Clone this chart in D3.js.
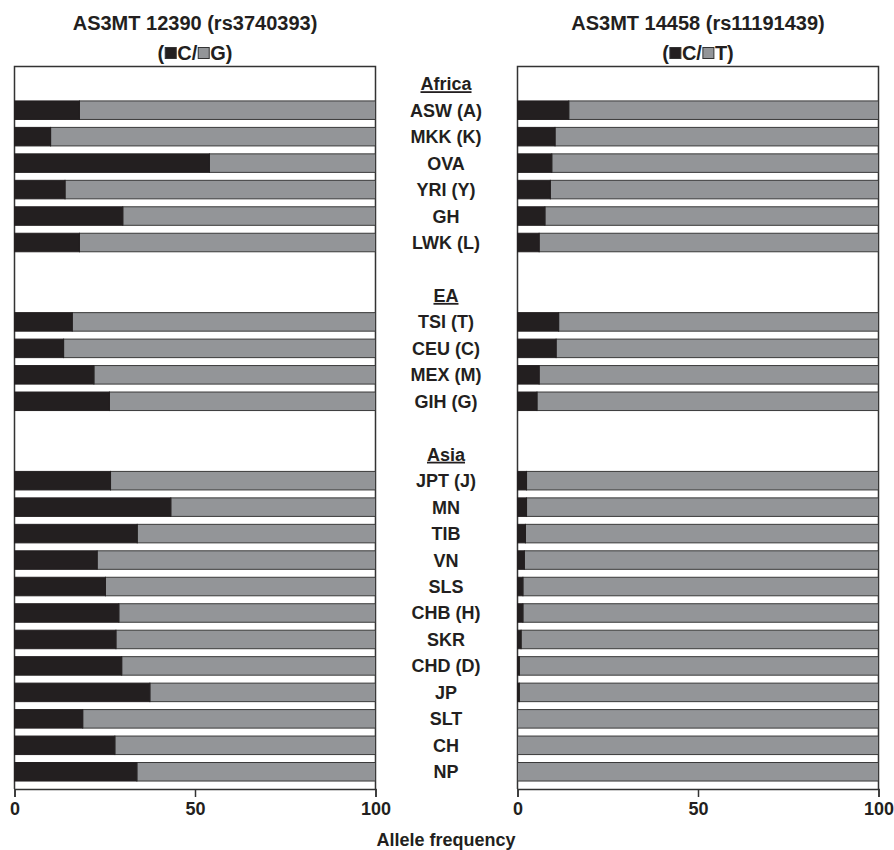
<!DOCTYPE html>
<html>
<head>
<meta charset="utf-8">
<script src="https://cdn.jsdelivr.net/npm/d3@7"></script>
<style>
  body { margin: 0; background: #fff; }
  text { font-family: "Liberation Sans", Arial, sans-serif; font-weight: bold; fill: #231f20; }
</style>
</head>
<body>
<div id="chart-area"></div>
<script>
// groups of populations, top to bottom
var groups = ["Africa", "EA", "Asia"];
var africaPops = ["ASW (A)", "MKK (K)", "OVA", "YRI (Y)", "GH", "LWK (L)"];
var eaPops = ["TSI (T)", "CEU (C)", "MEX (M)", "GIH (G)"];
var asiaPops = ["JPT (J)", "MN", "TIB", "VN", "SLS", "CHB (H)", "SKR", "CHD (D)", "JP", "SLT", "CH", "NP"];

// C allele frequency (%) for each population, same order as above
var freqC12390 = [18, 10, 54, 14, 30, 18, 16, 13.6, 22, 26.3,
                  26.6, 43.3, 34, 22.9, 25.2, 28.9, 28.1, 29.7, 37.5, 18.9, 27.8, 33.9];
var freqC14458 = [14.2, 10.4, 9.5, 9.1, 7.6, 6, 11.4, 10.7, 6, 5.4,
                  2.5, 2.5, 2.2, 1.9, 1.5, 1.5, 1, 0.5, 0.5, 0, 0, 0];

var panelTitles = ["AS3MT 12390 (rs3740393)", "AS3MT 14458 (rs11191439)"];
var otherAllele = ["G", "T"];
var tickValues = [0, 50, 100];

var W = 894, H = 850;
var black = "#231f20", grey = "#939598";

var svg = d3.select("#chart-area").append("svg")
  .attr("width", W)
  .attr("height", H);

// row slots: group header, its populations, then a blank slot
var populations = africaPops.concat(eaPops, asiaPops);
var slots = [];
[africaPops, eaPops, asiaPops].forEach(function(list, i) {
  slots.push("hdr:" + groups[i]);
  list.forEach(function(p) { slots.push(p); });
  if (i < 2) slots.push("gap" + i);
});

var y = d3.scaleBand()
  .domain(slots)
  .range([70.5, 785])
  .paddingInner(0.3)
  .paddingOuter(0.15);

var panelTop = 66.5, panelBottom = 789;
var panels = [
  { left: 14.5, values: freqC12390 },
  { left: 517.5, values: freqC14458 }
];

panels.forEach(function(p, pi) {
  var x = d3.scaleLinear().domain([0, 100]).range([p.left, p.left + 361]);
  var g = svg.append("g");
  var data = populations.map(function(name, i) { return { name: name, c: p.values[i] }; });

  // frame
  g.append("path")
    .attr("d", "M" + x(0) + "," + panelBottom + "V" + panelTop + "H" + x(100) + "V" + panelBottom)
    .attr("fill", "none")
    .attr("stroke", "#333")
    .attr("stroke-width", 1.5);

  // grey (other allele) then black (C allele)
  g.selectAll("rect.other").data(data).enter().append("rect")
    .attr("class", "other")
    .attr("x", function(d) { return x(d.c); })
    .attr("y", function(d) { return y(d.name); })
    .attr("width", function(d) { return x(100) - x(d.c); })
    .attr("height", y.bandwidth())
    .attr("fill", grey)
    .attr("stroke", "#3a3a3a")
    .attr("stroke-width", 1);

  g.selectAll("rect.callele").data(data.filter(function(d) { return d.c > 0; })).enter().append("rect")
    .attr("class", "callele")
    .attr("x", x(0))
    .attr("y", function(d) { return y(d.name); })
    .attr("width", function(d) { return x(d.c) - x(0); })
    .attr("height", y.bandwidth())
    .attr("fill", black)
    .attr("stroke", black)
    .attr("stroke-width", 1);

  // bottom axis
  var axis = d3.axisBottom(x).tickValues(tickValues).tickSize(8).tickPadding(5).tickFormat(d3.format("d"));
  var ax = g.append("g")
    .attr("transform", "translate(0," + panelBottom + ")")
    .call(axis);
  ax.select(".domain").attr("stroke", "#333").attr("stroke-width", 1.5);
  ax.selectAll(".tick line").attr("stroke", "#333").attr("stroke-width", 1.5);
  ax.selectAll(".tick text")
    .attr("font-size", "18px")
    .style("font-family", "'Liberation Sans', Arial, sans-serif")
    .style("font-weight", "bold")
    .attr("fill", black);

  // title
  var cx = (x(0) + x(100)) / 2;
  g.append("text")
    .attr("x", cx)
    .attr("y", 30)
    .attr("text-anchor", "middle")
    .attr("font-size", "20px")
    .text(panelTitles[pi]);

  // legend line "(■C/■G)"
  var leg = g.append("g");
  var pieces = [
    { t: "(" }, { sq: black }, { t: "C/" }, { sq: grey }, { t: otherAllele[pi] + ")" }
  ];
  var sq = 11, pos = 0;
  pieces.forEach(function(pc) {
    if (pc.t) {
      var t = leg.append("text").attr("x", pos).attr("y", 59.5).attr("font-size", "20px").text(pc.t);
      pos += t.node().getComputedTextLength();
    } else {
      leg.append("rect")
        .attr("x", pos + 1).attr("y", 47.5)
        .attr("width", sq).attr("height", sq)
        .attr("fill", pc.sq)
        .attr("stroke", "#333").attr("stroke-width", 1);
      pos += sq + 2;
    }
  });
  leg.attr("transform", "translate(" + (cx - pos / 2) + ",0)");
});

// centre labels
var midX = 446;
svg.append("g").selectAll("text")
  .data(slots.filter(function(s) { return s.indexOf("gap") !== 0; }))
  .enter().append("text")
  .attr("x", midX)
  .attr("y", function(s) { return y(s) + y.bandwidth() / 2; })
  .attr("dy", "0.36em")
  .attr("text-anchor", "middle")
  .attr("font-size", "18px")
  .style("text-decoration", function(s) { return s.indexOf("hdr:") === 0 ? "underline" : null; })
  .text(function(s) { return s.indexOf("hdr:") === 0 ? s.slice(4) : s; });

svg.append("text")
  .attr("x", midX)
  .attr("y", 846)
  .attr("text-anchor", "middle")
  .attr("font-size", "18px")
  .text("Allele frequency");
</script>
</body>
</html>
